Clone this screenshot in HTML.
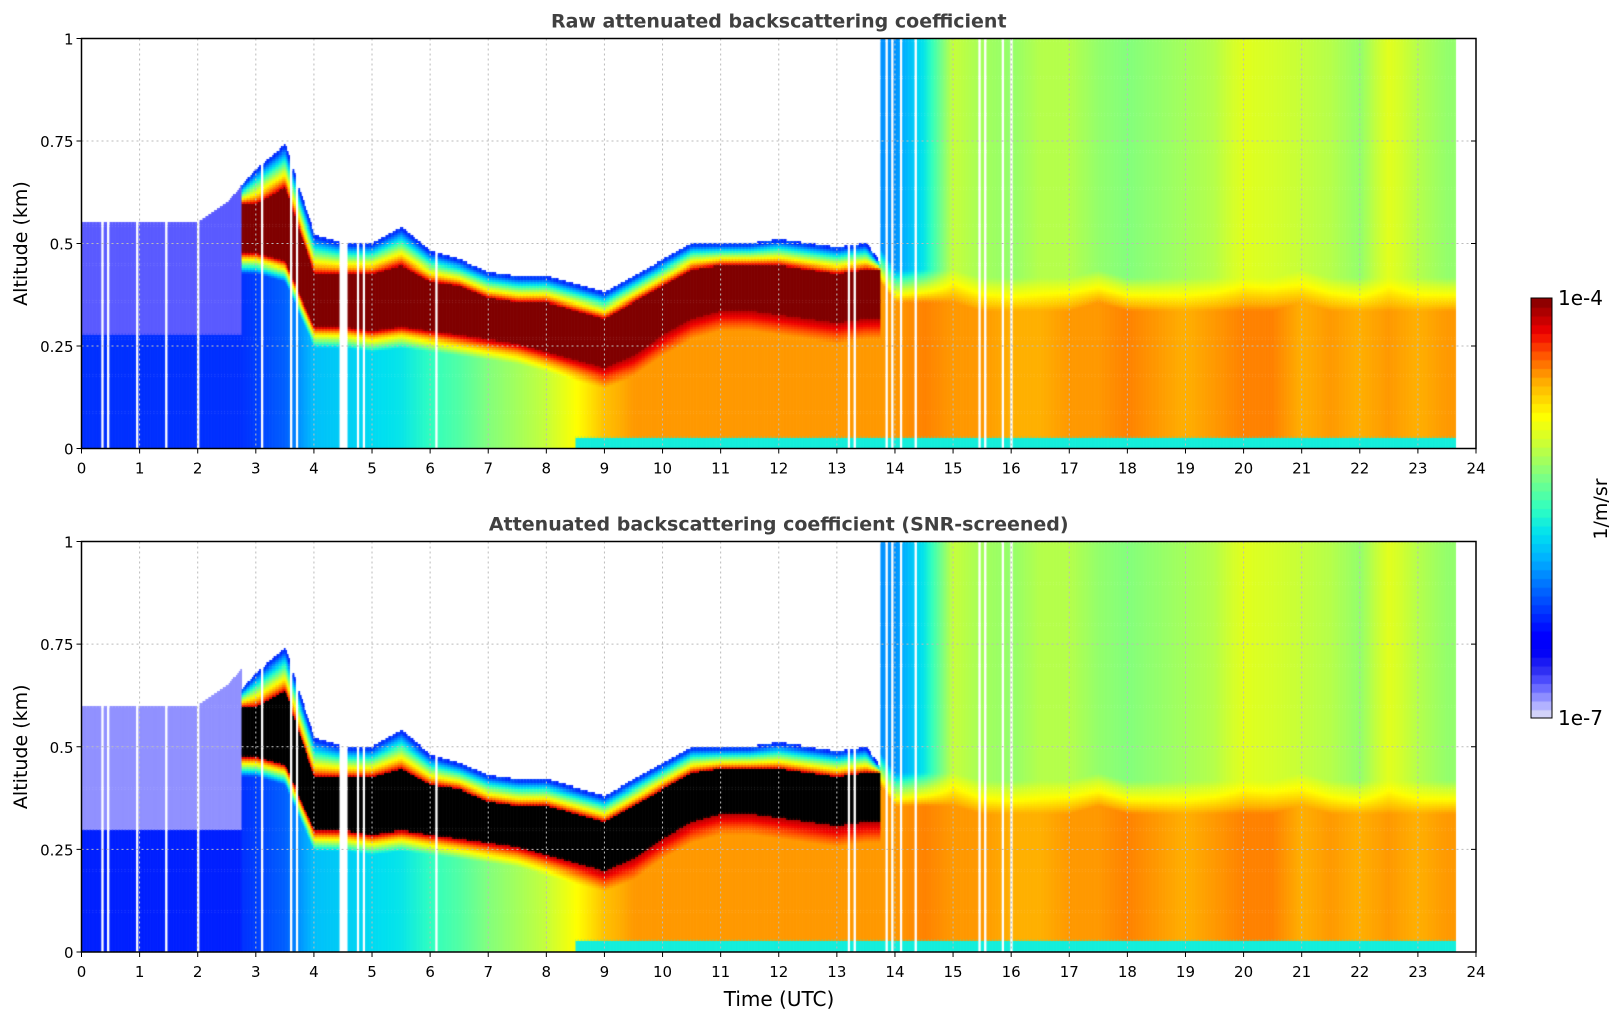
<!DOCTYPE html>
<html><head><meta charset="utf-8"><style>
body{margin:0;background:#fff;width:1621px;height:1020px;overflow:hidden;position:relative;font-family:"DejaVu Sans","Liberation Sans",sans-serif}
canvas{position:absolute}
svg{position:absolute;left:0;top:0;font-family:"DejaVu Sans","Liberation Sans",sans-serif}
</style></head><body>
<canvas id="c1" style="left:82px;top:38px" width="1394" height="411"></canvas>
<canvas id="c2" style="left:82px;top:542px" width="1394" height="410"></canvas>
<canvas id="cb" style="left:1531px;top:298px" width="21" height="420"></canvas>
<svg id="ov" width="1621" height="1020"></svg>
<script>
// half-hour time grid (UTC hours)
const times=[0,0.5,1,1.5,2,2.5,3,3.5,4,4.5,5,5.5,6,6.5,7,7.5,8,8.5,9,9.5,10,10.5,11,11.5,12,12.5,13,13.5,14,14.5,15,15.5,16,16.5,17,17.5,18,18.5,19,19.5,20,20.5,21,21.5,22,22.5,23,23.5];
// aerosol layer top (km)
const layerTop=[0.55,0.55,0.55,0.55,0.55,0.6,0.68,0.74,0.52,0.5,0.5,0.54,0.48,0.46,0.43,0.42,0.42,0.4,0.38,0.42,0.46,0.5,0.5,0.5,0.51,0.5,0.49,0.5,0.4,0.4,0.4,0.38,0.38,0.38,0.38,0.4,0.38,0.38,0.38,0.38,0.38,0.38,0.4,0.38,0.38,0.38,0.38,0.38];
// dense core top / bottom (km), 0 = no core
const coreTop=[0,0,0,0,0,0,0.6,0.64,0.43,0.43,0.43,0.45,0.41,0.4,0.37,0.36,0.36,0.34,0.32,0.36,0.4,0.44,0.45,0.45,0.45,0.44,0.43,0.44,0,0,0,0,0,0,0,0,0,0,0,0,0,0,0,0,0,0,0,0];
const coreBot=[0,0,0,0,0,0,0.48,0.46,0.3,0.3,0.29,0.3,0.29,0.28,0.27,0.26,0.24,0.22,0.2,0.23,0.28,0.32,0.34,0.34,0.33,0.32,0.31,0.32,0,0,0,0,0,0,0,0,0,0,0,0,0,0,0,0,0,0,0,0];
// log10 backscatter below layer / above layer (-9 = no signal)
const belowVal=[-6.3,-6.3,-6.3,-6.3,-6.3,-6.3,-6.2,-6.1,-5.8,-5.75,-5.7,-5.65,-5.5,-5.4,-5.25,-5.15,-5.05,-4.85,-4.65,-4.55,-4.55,-4.55,-4.55,-4.55,-4.55,-4.55,-4.55,-4.55,-4.55,-4.5,-4.55,-4.55,-4.6,-4.6,-4.55,-4.55,-4.5,-4.55,-4.6,-4.55,-4.5,-4.5,-4.6,-4.55,-4.6,-4.55,-4.6,-4.55];
const aboveVal=[-9,-9,-9,-9,-9,-9,-9,-9,-9,-9,-9,-9,-9,-9,-9,-9,-9,-9,-9,-9,-9,-9,-9,-9,-9,-9,-9,-9,-5.95,-5.65,-5.05,-5.15,-5.2,-5.1,-5.1,-5.2,-5.25,-5.2,-5.15,-5.1,-4.95,-5.0,-5.05,-5.1,-5.2,-4.95,-5.1,-5.2];
// missing-data gaps (hours)
const gaps=[0.35,0.45,0.95,1.45,2.0,3.1,3.6,3.7,4.45,4.475,4.5,4.525,4.55,4.75,4.85,6.1,13.2,13.3,13.85,13.95,14.1,14.35,15.45,15.55,15.85,16.0];
const tEnd=23.65;
const tickX=[0,1,2,3,4,5,6,7,8,9,10,11,12,13,14,15,16,17,18,19,20,21,22,23,24];
const tickY=[0,0.25,0.5,0.75,1];
const tickYLbl=["0","0.25","0.5","0.75","1"];

const stops=[[0,[228,228,246]],[0.03,[180,180,255]],[0.06,[128,128,255]],[0.09,[80,80,255]],[0.12,[40,40,240]],[0.16,[0,0,248]],[0.2,[0,0,255]],[0.3,[0,96,255]],[0.38,[0,176,255]],[0.44,[0,224,240]],[0.5,[48,255,192]],[0.58,[128,255,128]],[0.66,[208,255,48]],[0.72,[255,255,0]],[0.8,[255,176,0]],[0.87,[255,80,0]],[0.92,[240,0,0]],[1,[128,0,0]]];
function cmap(v){v=Math.max(0,Math.min(1,v));for(let i=1;i<stops.length;i++){if(v<=stops[i][0]){const a=stops[i-1],b=stops[i],f=(v-a[0])/(b[0]-a[0]);return a[1].map((c,k)=>Math.round(c+(b[1][k]-c)*f));}}return stops[stops.length-1][1];}
function interp(arr,t){const x=Math.min(t,23.5)/0.5,i=Math.floor(x),f=x-i;const a=arr[i],b=arr[Math.min(i+1,arr.length-1)];if(a===0||b===0)return f<0.5?a:b;if(a<-8||b<-8)return f<0.5?a:b;return a+(b-a)*f;}
function value(t,z,screen){
 const top=interp(layerTop,t),ct=interp(coreTop,t),cb=interp(coreBot,t),bv=interp(belowVal,t),av=interp(aboveVal,t);
 if(z<0.03&&t>8.5)return -5.6;
 if(av>-8){
  if(z<top-0.04)return bv; if(z>top+0.04)return av;
  return bv+(av-bv)*((z-top+0.04)/0.08);}
 if(ct>0){
  if(z>top)return -9;
  if(z>=ct)return -4.2-(z-ct)/(top-ct)*2.1;
  if(z>=cb)return screen?99:-4.0;
  if(z>=cb-0.05)return -4.1+(cb-z)/0.05*(bv+4.1);
  return bv;}
 if(screen){if(z<0.3)return -6.3; if(z<top+0.05)return -6.85; return -9;}
 if(z<0.28)return -6.25; if(z<top)return -6.75; return -9;
}
function drawHeat(id,screen){
 const c=document.getElementById(id),g=c.getContext('2d'),W=c.width,H=c.height;
 const nx=960,ny=200,dw=W/nx,dh=H/ny;
 for(let i=0;i<nx;i++){const t=(i+0.5)*24/nx;if(t>tEnd)continue;
  if(gaps.some(q=>Math.abs(q-t)<=0.0126))continue;
  for(let j=0;j<ny;j++){const z=(j+0.5)/ny;const v=value(t,z,screen);if(v<-8)continue;
   g.fillStyle=v>50?'#000':'rgb('+cmap((v+7)/3).join(',')+')';
   g.fillRect(i*dw,Math.floor(H-(j+1)*dh),dw+0.3,Math.ceil(dh)+1);}}
}
drawHeat('c1',false);drawHeat('c2',true);
(function(){const c=document.getElementById('cb'),g=c.getContext('2d');const n=48;for(let k=0;k<n;k++){g.fillStyle='rgb('+cmap((k+0.5)/n).join(',')+')';g.fillRect(0,420-(k+1)*420/n,21,420/n+1);}})();

const NS='http://www.w3.org/2000/svg',ov=document.getElementById('ov');
function el(tag,attrs,txt){const e=document.createElementNS(NS,tag);for(const k in attrs)e.setAttribute(k,attrs[k]);if(txt!==undefined)e.textContent=txt;ov.appendChild(e);return e;}
const L=81.5,R=1476;
function axes(top,bot,title,idx){
 const xs=t=>L+(R-L)*t/24,ys=z=>bot-(bot-top)*z;
 tickX.forEach(t=>{const x=xs(t);
  const gl=el('line',{x1:x,x2:x,y1:top,y2:bot,stroke:'#bbb','stroke-dasharray':'2,3','stroke-width':1});
  
  el('line',{x1:x,x2:x,y1:bot,y2:bot+5,stroke:'#000'});
  const lb=el('text',{x:x,y:bot+25,'text-anchor':'middle','font-size':15,fill:'#000'},String(t));
  });
 tickY.forEach((z,k)=>{const y=ys(z);
  const gl=el('line',{x1:L,x2:R,y1:y,y2:y,stroke:'#bbb','stroke-dasharray':'2,3','stroke-width':1});
  
  el('line',{x1:L-5,x2:L,y1:y,y2:y,stroke:'#000'});el('line',{x1:R-5,x2:R,y1:y,y2:y,stroke:'#000'});
  const lb=el('text',{x:L-8,y:y+6,'text-anchor':'end','font-size':15,fill:'#000'},tickYLbl[k]);
  });
 const fr=el('rect',{x:L,y:top,width:R-L,height:bot-top,fill:'none',stroke:'#000','stroke-width':1.5});
 
 const tt=el('text',{x:(L+R)/2,y:top-11,'text-anchor':'middle','font-size':19,'font-weight':'bold',fill:'#404040'},title);
 
 const yl=el('text',{x:0,y:0,transform:'translate(27,'+((top+bot)/2)+') rotate(-90)','text-anchor':'middle','font-size':19,fill:'#000'},'Altitude (km)');
 
}
axes(38.5,448.5,'Raw attenuated backscattering coefficient',1);
axes(541.5,952,'Attenuated backscattering coefficient (SNR-screened)',2);
const xt=el('text',{x:779,y:1006,'text-anchor':'middle','font-size':20,fill:'#000'},'Time (UTC)');

const cf=el('rect',{x:1531,y:298,width:21,height:420,fill:'none',stroke:'#000','stroke-width':1});

const c1=el('text',{x:1558,y:305,'font-size':20,fill:'#000'},'1e-4');

const c2=el('text',{x:1558,y:725,'font-size':20,fill:'#000'},'1e-7');

const cu=el('text',{x:0,y:0,transform:'translate(1607,509) rotate(-90)','text-anchor':'middle','font-size':19,fill:'#000'},'1/m/sr');

</script>
</body></html>
